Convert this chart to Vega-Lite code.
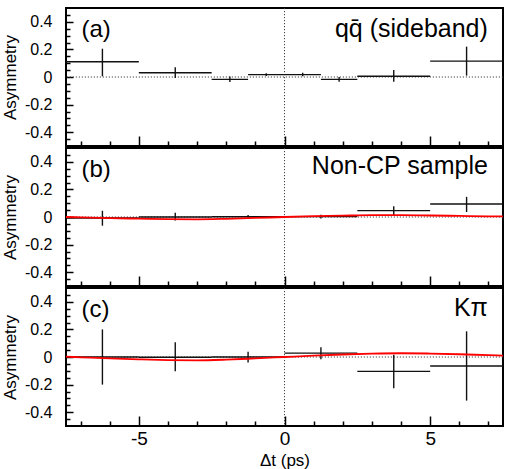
{
  "$schema": "https://vega.github.io/schema/vega-lite/v6.json",
  "padding": {"left": 0, "top": 6, "right": 8, "bottom": 0},
  "spacing": 2,
  "bounds": "flush",
  "background": "white",
  "config": {
    "view": {"stroke": "black", "strokeWidth": 2},
    "axis": {
      "domain": false, "grid": false, "tickColor": "black", "tickWidth": 1.5,
      "labelFont": "Liberation Sans", "labelColor": "black",
      "titleFont": "Liberation Sans", "titleColor": "black", "titleFontWeight": "normal"
    },
    "text": {"font": "Liberation Sans", "fontSize": 24, "color": "black"}
  },
  "datasets": {
    "zero": [{"v": 0}],
    "bins": [
      {"panel": "a", "lo": -7.5, "hi": -5, "xc": -6.25, "y": 0.11, "ylo": 0.005, "yhi": 0.205},
      {"panel": "a", "lo": -5, "hi": -2.5, "xc": -3.75, "y": 0.031, "ylo": -0.007, "yhi": 0.07},
      {"panel": "a", "lo": -2.5, "hi": -1.25, "xc": -1.875, "y": -0.017, "ylo": -0.037, "yhi": 0.003},
      {"panel": "a", "lo": -1.25, "hi": 0, "xc": -0.625, "y": 0.017, "ylo": 0.007, "yhi": 0.027},
      {"panel": "a", "lo": 0, "hi": 1.25, "xc": 0.625, "y": 0.017, "ylo": 0.005, "yhi": 0.03},
      {"panel": "a", "lo": 1.25, "hi": 2.5, "xc": 1.875, "y": -0.017, "ylo": -0.035, "yhi": 0.0},
      {"panel": "a", "lo": 2.5, "hi": 5, "xc": 3.75, "y": 0.005, "ylo": -0.035, "yhi": 0.05},
      {"panel": "a", "lo": 5, "hi": 7.5, "xc": 6.25, "y": 0.115, "ylo": 0.01, "yhi": 0.22},
      {"panel": "b", "lo": -7.5, "hi": -5, "xc": -6.25, "y": -0.007, "ylo": -0.063, "yhi": 0.045},
      {"panel": "b", "lo": -5, "hi": -2.5, "xc": -3.75, "y": 0.0, "ylo": -0.025, "yhi": 0.03},
      {"panel": "b", "lo": -2.5, "hi": 0, "xc": -1.25, "y": 0.002, "ylo": -0.01, "yhi": 0.014},
      {"panel": "b", "lo": 0, "hi": 2.5, "xc": 1.25, "y": 0.003, "ylo": -0.01, "yhi": 0.016},
      {"panel": "b", "lo": 2.5, "hi": 5, "xc": 3.75, "y": 0.046, "ylo": 0.015, "yhi": 0.077},
      {"panel": "b", "lo": 5, "hi": 7.5, "xc": 6.25, "y": 0.094, "ylo": 0.036, "yhi": 0.146},
      {"panel": "c", "lo": -7.5, "hi": -5, "xc": -6.25, "y": 0.0, "ylo": -0.2, "yhi": 0.2},
      {"panel": "c", "lo": -5, "hi": -2.5, "xc": -3.75, "y": -0.002, "ylo": -0.104, "yhi": 0.106},
      {"panel": "c", "lo": -2.5, "hi": 0, "xc": -1.25, "y": 0.0, "ylo": -0.04, "yhi": 0.038},
      {"panel": "c", "lo": 0, "hi": 2.5, "xc": 1.25, "y": 0.028, "ylo": -0.017, "yhi": 0.07},
      {"panel": "c", "lo": 2.5, "hi": 5, "xc": 3.75, "y": -0.104, "ylo": -0.227, "yhi": 0.017},
      {"panel": "c", "lo": 5, "hi": 7.5, "xc": 6.25, "y": -0.065, "ylo": -0.316, "yhi": 0.186}
    ],
    "curve": [
      {"panel": "b", "t": -7.5, "a": 0.0}, {"panel": "b", "t": -7, "a": -0.003}, {"panel": "b", "t": -6, "a": -0.008},
      {"panel": "b", "t": -5, "a": -0.012}, {"panel": "b", "t": -4, "a": -0.016}, {"panel": "b", "t": -3, "a": -0.017},
      {"panel": "b", "t": -2, "a": -0.013}, {"panel": "b", "t": -1, "a": -0.007}, {"panel": "b", "t": 0, "a": 0.0},
      {"panel": "b", "t": 1, "a": 0.006}, {"panel": "b", "t": 2, "a": 0.01}, {"panel": "b", "t": 3, "a": 0.013},
      {"panel": "b", "t": 4, "a": 0.013}, {"panel": "b", "t": 5, "a": 0.011}, {"panel": "b", "t": 6, "a": 0.008},
      {"panel": "b", "t": 7, "a": 0.005}, {"panel": "b", "t": 7.5, "a": 0.004},
      {"panel": "c", "t": -7.5, "a": 0.002}, {"panel": "c", "t": -7, "a": -0.002}, {"panel": "c", "t": -6, "a": -0.01},
      {"panel": "c", "t": -5, "a": -0.017}, {"panel": "c", "t": -4, "a": -0.022}, {"panel": "c", "t": -3, "a": -0.024},
      {"panel": "c", "t": -2, "a": -0.019}, {"panel": "c", "t": -1, "a": -0.01}, {"panel": "c", "t": 0, "a": 0.0},
      {"panel": "c", "t": 1, "a": 0.01}, {"panel": "c", "t": 2, "a": 0.018}, {"panel": "c", "t": 3, "a": 0.024},
      {"panel": "c", "t": 4, "a": 0.027}, {"panel": "c", "t": 5, "a": 0.025}, {"panel": "c", "t": 6, "a": 0.02},
      {"panel": "c", "t": 7, "a": 0.013}, {"panel": "c", "t": 7.5, "a": 0.01}
    ],
    "labels": [
      {"panel": "a", "x": -6.97, "y": 0.29, "text": "(a)", "side": "left"},
      {"panel": "a", "x": 6.98, "y": 0.29, "text": "qq̄ (sideband)", "side": "right"},
      {"panel": "b", "x": -6.97, "y": 0.29, "text": "(b)", "side": "left"},
      {"panel": "b", "x": 6.98, "y": 0.31, "text": "Non-CP sample", "side": "right"},
      {"panel": "c", "x": -6.97, "y": 0.29, "text": "(c)", "side": "left"},
      {"panel": "c", "x": 6.98, "y": 0.30, "text": "Kπ", "side": "right"}
    ]
  },
  "vconcat": [
    {
      "width": 437, "height": 138,
      "resolve": {"axis": {"x": "independent", "y": "independent"}},
      "layer": [
        {"data": {"name": "zero"},
         "mark": {"type": "rule", "strokeDash": [1.2, 1.8], "color": "#444", "strokeWidth": 1},
         "encoding": {"y": {"field": "v", "type": "quantitative", "scale": {"domain": [-0.5, 0.5], "nice": false, "zero": false},
           "axis": {"orient": "left", "values": [-0.45, -0.35, -0.3, -0.25, -0.15, -0.1, -0.05, 0.05, 0.1, 0.15, 0.25, 0.3, 0.35, 0.45], "offset": -4, "tickSize": 4, "labels": false, "title": null}}}},
        {"data": {"name": "zero"},
         "mark": {"type": "rule", "strokeDash": [1.2, 1.8], "color": "#444", "strokeWidth": 1},
         "encoding": {"x": {"field": "v", "type": "quantitative", "scale": {"domain": [-7.5, 7.5], "nice": false, "zero": false},
           "axis": {"orient": "bottom", "values": [-7, -6, -4, -3, -2, -1, 1, 2, 3, 4, 6, 7], "offset": -5, "tickSize": 5, "labels": false, "title": null}}}},
        {"data": {"name": "bins"}, "transform": [{"filter": "datum.panel == 'a'"}],
         "mark": {"type": "rule", "color": "#111", "strokeWidth": 1.4},
         "encoding": {
           "x": {"field": "lo", "type": "quantitative", "axis": {"orient": "bottom", "values": [-5, 0, 5], "offset": -10, "tickSize": 10, "labels": false, "title": null}},
           "x2": {"field": "hi"},
           "y": {"field": "y", "type": "quantitative", "axis": {"orient": "left", "values": [-0.4, -0.2, 0, 0.2, 0.4], "offset": -7, "tickSize": 7, "labelExpr": "toString(datum.value)", "labelFontSize": 16, "labelPadding": 14, "title": "Asymmetry", "titleFontSize": 17, "titlePadding": 5}}}},
        {"data": {"name": "bins"}, "transform": [{"filter": "datum.panel == 'a'"}],
         "mark": {"type": "rule", "color": "#111", "strokeWidth": 1.4},
         "encoding": {"x": {"field": "xc", "type": "quantitative", "axis": null}, "y": {"field": "ylo", "type": "quantitative", "axis": null}, "y2": {"field": "yhi"}}},
        {"data": {"name": "labels"}, "transform": [{"filter": "datum.panel == 'a' && datum.side == 'left'"}],
         "mark": {"type": "text", "align": "left", "baseline": "alphabetic"},
         "encoding": {"x": {"field": "x", "type": "quantitative", "axis": null}, "y": {"field": "y", "type": "quantitative", "axis": null}, "text": {"field": "text"}}},
        {"data": {"name": "labels"}, "transform": [{"filter": "datum.panel == 'a' && datum.side == 'right'"}],
         "mark": {"type": "text", "align": "right", "baseline": "alphabetic", "fontSize": 25},
         "encoding": {"x": {"field": "x", "type": "quantitative", "axis": null}, "y": {"field": "y", "type": "quantitative", "axis": null}, "text": {"field": "text"}}}
      ]
    },
    {
      "width": 437, "height": 138,
      "resolve": {"axis": {"x": "independent", "y": "independent"}},
      "layer": [
        {"data": {"name": "zero"},
         "mark": {"type": "rule", "strokeDash": [1.2, 1.8], "color": "#444", "strokeWidth": 1},
         "encoding": {"y": {"field": "v", "type": "quantitative", "scale": {"domain": [-0.5, 0.5], "nice": false, "zero": false},
           "axis": {"orient": "left", "values": [-0.45, -0.35, -0.3, -0.25, -0.15, -0.1, -0.05, 0.05, 0.1, 0.15, 0.25, 0.3, 0.35, 0.45], "offset": -4, "tickSize": 4, "labels": false, "title": null}}}},
        {"data": {"name": "zero"},
         "mark": {"type": "rule", "strokeDash": [1.2, 1.8], "color": "#444", "strokeWidth": 1},
         "encoding": {"x": {"field": "v", "type": "quantitative", "scale": {"domain": [-7.5, 7.5], "nice": false, "zero": false},
           "axis": {"orient": "bottom", "values": [-7, -6, -4, -3, -2, -1, 1, 2, 3, 4, 6, 7], "offset": -5, "tickSize": 5, "labels": false, "title": null}}}},
        {"data": {"name": "bins"}, "transform": [{"filter": "datum.panel == 'b'"}],
         "mark": {"type": "rule", "color": "#111", "strokeWidth": 1.4},
         "encoding": {
           "x": {"field": "lo", "type": "quantitative", "axis": {"orient": "bottom", "values": [-5, 0, 5], "offset": -10, "tickSize": 10, "labels": false, "title": null}},
           "x2": {"field": "hi"},
           "y": {"field": "y", "type": "quantitative", "axis": {"orient": "left", "values": [-0.4, -0.2, 0, 0.2, 0.4], "offset": -7, "tickSize": 7, "labelExpr": "toString(datum.value)", "labelFontSize": 16, "labelPadding": 14, "title": "Asymmetry", "titleFontSize": 17, "titlePadding": 5}}}},
        {"data": {"name": "bins"}, "transform": [{"filter": "datum.panel == 'b'"}],
         "mark": {"type": "rule", "color": "#111", "strokeWidth": 1.4},
         "encoding": {"x": {"field": "xc", "type": "quantitative", "axis": null}, "y": {"field": "ylo", "type": "quantitative", "axis": null}, "y2": {"field": "yhi"}}},
        {"data": {"name": "curve"}, "transform": [{"filter": "datum.panel == 'b'"}],
         "mark": {"type": "line", "color": "#ff0000", "strokeWidth": 1.8, "interpolate": "monotone"},
         "encoding": {"x": {"field": "t", "type": "quantitative", "axis": null}, "y": {"field": "a", "type": "quantitative", "axis": null}}},
        {"data": {"name": "labels"}, "transform": [{"filter": "datum.panel == 'b' && datum.side == 'left'"}],
         "mark": {"type": "text", "align": "left", "baseline": "alphabetic"},
         "encoding": {"x": {"field": "x", "type": "quantitative", "axis": null}, "y": {"field": "y", "type": "quantitative", "axis": null}, "text": {"field": "text"}}},
        {"data": {"name": "labels"}, "transform": [{"filter": "datum.panel == 'b' && datum.side == 'right'"}],
         "mark": {"type": "text", "align": "right", "baseline": "alphabetic", "fontSize": 25},
         "encoding": {"x": {"field": "x", "type": "quantitative", "axis": null}, "y": {"field": "y", "type": "quantitative", "axis": null}, "text": {"field": "text"}}}
      ]
    },
    {
      "width": 437, "height": 138,
      "resolve": {"axis": {"x": "independent", "y": "independent"}},
      "layer": [
        {"data": {"name": "zero"},
         "mark": {"type": "rule", "strokeDash": [1.2, 1.8], "color": "#444", "strokeWidth": 1},
         "encoding": {"y": {"field": "v", "type": "quantitative", "scale": {"domain": [-0.5, 0.5], "nice": false, "zero": false},
           "axis": {"orient": "left", "values": [-0.45, -0.35, -0.3, -0.25, -0.15, -0.1, -0.05, 0.05, 0.1, 0.15, 0.25, 0.3, 0.35, 0.45], "offset": -4, "tickSize": 4, "labels": false, "title": null}}}},
        {"data": {"name": "zero"},
         "mark": {"type": "rule", "strokeDash": [1.2, 1.8], "color": "#444", "strokeWidth": 1},
         "encoding": {"x": {"field": "v", "type": "quantitative", "scale": {"domain": [-7.5, 7.5], "nice": false, "zero": false},
           "axis": {"orient": "bottom", "values": [-7, -6, -4, -3, -2, -1, 1, 2, 3, 4, 6, 7], "offset": -5, "tickSize": 5, "labels": false, "title": null}}}},
        {"data": {"name": "bins"}, "transform": [{"filter": "datum.panel == 'c'"}],
         "mark": {"type": "rule", "color": "#111", "strokeWidth": 1.4},
         "encoding": {
           "x": {"field": "lo", "type": "quantitative", "axis": {"orient": "bottom", "values": [-5, 0, 5], "offset": -10, "tickSize": 10, "labelExpr": "toString(datum.value)", "labelFontSize": 19, "labelPadding": 3, "title": "Δt (ps)", "titleFontSize": 17, "titlePadding": 4}},
           "x2": {"field": "hi"},
           "y": {"field": "y", "type": "quantitative", "axis": {"orient": "left", "values": [-0.4, -0.2, 0, 0.2, 0.4], "offset": -7, "tickSize": 7, "labelExpr": "toString(datum.value)", "labelFontSize": 16, "labelPadding": 14, "title": "Asymmetry", "titleFontSize": 17, "titlePadding": 5}}}},
        {"data": {"name": "bins"}, "transform": [{"filter": "datum.panel == 'c'"}],
         "mark": {"type": "rule", "color": "#111", "strokeWidth": 1.4},
         "encoding": {"x": {"field": "xc", "type": "quantitative", "axis": null}, "y": {"field": "ylo", "type": "quantitative", "axis": null}, "y2": {"field": "yhi"}}},
        {"data": {"name": "curve"}, "transform": [{"filter": "datum.panel == 'c'"}],
         "mark": {"type": "line", "color": "#ff0000", "strokeWidth": 1.8, "interpolate": "monotone"},
         "encoding": {"x": {"field": "t", "type": "quantitative", "axis": null}, "y": {"field": "a", "type": "quantitative", "axis": null}}},
        {"data": {"name": "labels"}, "transform": [{"filter": "datum.panel == 'c' && datum.side == 'left'"}],
         "mark": {"type": "text", "align": "left", "baseline": "alphabetic"},
         "encoding": {"x": {"field": "x", "type": "quantitative", "axis": null}, "y": {"field": "y", "type": "quantitative", "axis": null}, "text": {"field": "text"}}},
        {"data": {"name": "labels"}, "transform": [{"filter": "datum.panel == 'c' && datum.side == 'right'"}],
         "mark": {"type": "text", "align": "right", "baseline": "alphabetic", "fontSize": 25},
         "encoding": {"x": {"field": "x", "type": "quantitative", "axis": null}, "y": {"field": "y", "type": "quantitative", "axis": null}, "text": {"field": "text"}}}
      ]
    }
  ]
}
